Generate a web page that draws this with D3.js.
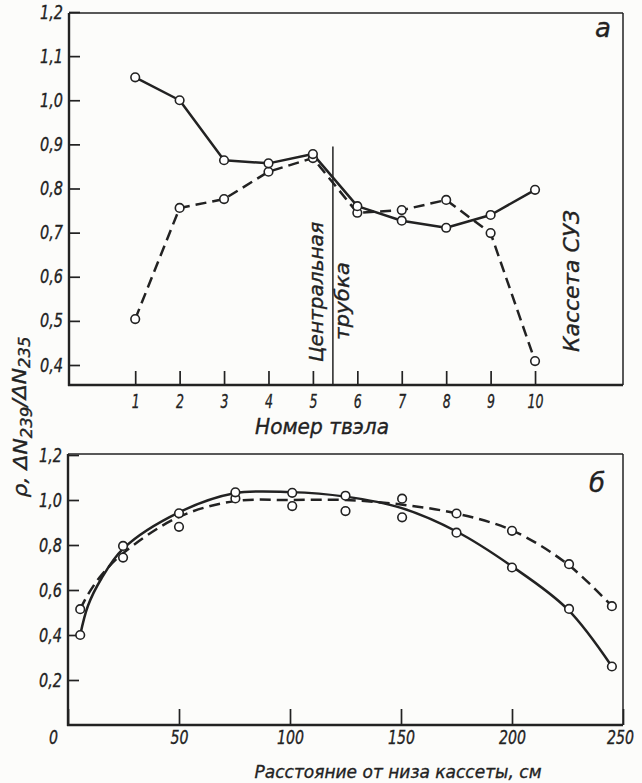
<!DOCTYPE html>
<html>
<head>
<meta charset="utf-8">
<script src="https://cdn.jsdelivr.net/npm/d3@7"></script>
<style>
  body { margin: 0; background: #fcfcfa; }
  svg text { font-family: 'DejaVu Sans', sans-serif; font-style: italic; fill: #222; stroke: #222; stroke-width: 0.35px; }
</style>
</head>
<body>
<svg id="chart" width="642" height="783"></svg>
<script>
// Panel a: ratio by fuel rod number
const rodNumbers = [1, 2, 3, 4, 5, 6, 7, 8, 9, 10];
const rodSolid = [1.052, 1.0, 0.864, 0.857, 0.878, 0.76, 0.727, 0.711, 0.74, 0.797];
const rodDashed = [0.504, 0.756, 0.776, 0.838, 0.869, 0.745, 0.751, 0.774, 0.699, 0.409];
const rodTicksY = [0.4, 0.5, 0.6, 0.7, 0.8, 0.9, 1.0, 1.1, 1.2];
const centralTubeAt = 5.45;

// Panel b: ratio by distance from the bottom of the assembly, cm
const distPoints = [5.5, 24.8, 50, 75.4, 101, 125, 150.5, 175, 200, 225.7, 245];
const distPointsSolid = [0.40, 0.796, 0.941, 1.034, 1.032, 1.019, 0.923, 0.855, 0.70, 0.516, 0.26];
const distPointsDashed = [0.515, 0.744, 0.881, 1.007, 0.973, 0.951, 1.006, 0.94, 0.863, 0.715, 0.528];
const curveDist = [5.5, 9, 15, 25, 50, 75, 100, 125, 150, 175, 200, 225, 245];
const curveSolid = [0.40, 0.53, 0.65, 0.785, 0.945, 1.03, 1.035, 1.015, 0.965, 0.86, 0.705, 0.515, 0.26];
const curveDashed = [0.515, 0.58, 0.665, 0.765, 0.925, 0.995, 1.0, 1.0, 0.98, 0.94, 0.865, 0.715, 0.528];
const distTicksX = [0, 50, 100, 150, 200, 250];
const distTicksY = [0.2, 0.4, 0.6, 0.8, 1.0, 1.2];

const INK = '#222';
const svg = d3.select('#chart');
const commaFmt = d => d3.format('.1f')(d).replace('.', ',');

const frameA = { left: 69, right: 623, top: 13, bottom: 385 };
const frameB = { left: 68, right: 623, top: 454, bottom: 725 };

const xA = d3.scaleLinear().domain([-0.49, 11.98]).range([frameA.left, frameA.right]);
const yA = d3.scaleLinear().domain([0.4, 1.2]).range([365, 12]);
const xB = d3.scaleLinear().domain([0, 250]).range([frameB.left, frameB.right]);
const yB = d3.scaleLinear().domain([0, 1.2]).range([frameB.bottom, 455]);

function drawFrame(f) {
    const g = svg.append('g').attr('stroke', INK).attr('fill', 'none');
    g.append('line').attr('x1', f.left).attr('x2', f.right).attr('y1', f.top).attr('y2', f.top).attr('stroke-width', 1.5);
    g.append('line').attr('x1', f.right).attr('x2', f.right).attr('y1', f.top).attr('y2', f.bottom).attr('stroke-width', 1.5);
    g.append('line').attr('x1', f.left).attr('x2', f.left).attr('y1', f.top).attr('y2', f.bottom + 1).attr('stroke-width', 2.4);
    g.append('line').attr('x1', f.left - 1).attr('x2', f.right).attr('y1', f.bottom).attr('y2', f.bottom).attr('stroke-width', 2.4);
}

function styleAxis(g, size, perChar) {
    g.select('.domain').remove();
    g.selectAll('.tick line').attr('stroke', INK).attr('stroke-width', 1.7);
    g.selectAll('.tick text')
        .attr('fill', INK)
        .style('font-size', size + 'px')
        .attr('lengthAdjust', 'spacingAndGlyphs')
        .attr('textLength', function () {
            const s = this.textContent;
            return s.replace(',', '').length * perChar + (s.includes(',') ? 5 : 0);
        });
}

function drawSeries(x, y, xs, ys, dashed, curve) {
    const line = d3.line()
        .x(d => x(d[0]))
        .y(d => y(d[1]))
        .curve(curve);
    svg.append('path')
        .datum(d3.zip(xs, ys))
        .attr('d', line)
        .attr('fill', 'none')
        .attr('stroke', INK)
        .attr('stroke-width', 2.5)
        .attr('stroke-linejoin', 'round')
        .attr('stroke-dasharray', dashed ? '11,6' : null);
}

function drawPoints(x, y, xs, ys) {
    svg.append('g')
        .selectAll('circle')
        .data(d3.zip(xs, ys))
        .join('circle')
        .attr('cx', d => x(d[0]))
        .attr('cy', d => y(d[1]))
        .attr('r', 4.3)
        .attr('fill', '#fff')
        .attr('stroke', INK)
        .attr('stroke-width', 1.6);
}

function verticalText(x, y, text, size, len) {
    return svg.append('text')
        .attr('transform', `translate(${x},${y}) rotate(-90)`)
        .attr('text-anchor', 'middle')
        .style('font-size', size + 'px')
        .attr('textLength', len)
        .attr('lengthAdjust', 'spacingAndGlyphs')
        .text(text);
}

// ---- Panel a ----
svg.append('g')
    .attr('transform', `translate(${frameA.left},0)`)
    .call(d3.axisLeft(yA).tickValues(rodTicksY).tickSize(-11).tickPadding(6).tickFormat(commaFmt))
    .call(g => styleAxis(g, 19, 9));

svg.append('g')
    .attr('transform', `translate(0,${frameA.bottom})`)
    .call(d3.axisBottom(xA).tickValues(rodNumbers).tickSize(-14).tickPadding(9).tickFormat(d3.format('d')))
    .call(g => styleAxis(g, 20, 8));

drawFrame(frameA);

// central tube marker
svg.append('line')
    .attr('x1', xA(centralTubeAt)).attr('x2', xA(centralTubeAt))
    .attr('y1', yA(0.9) + 2).attr('y2', frameA.bottom)
    .attr('stroke', INK).attr('stroke-width', 1.5);

drawSeries(xA, yA, rodNumbers, rodDashed, true, d3.curveLinear);
drawSeries(xA, yA, rodNumbers, rodSolid, false, d3.curveLinear);
drawPoints(xA, yA, rodNumbers, rodDashed);
drawPoints(xA, yA, rodNumbers, rodSolid);

verticalText(323, 292, 'Центральная', 20, 140);
verticalText(349, 301, 'трубка', 20, 78);
verticalText(579, 281, 'Кассета СУЗ', 21, 142);

svg.append('text').attr('x', 603).attr('y', 37).attr('text-anchor', 'middle')
    .style('font-size', '26px').text('а');

svg.append('text').attr('x', 322).attr('y', 434).attr('text-anchor', 'middle')
    .style('font-size', '21px').attr('textLength', 134).attr('lengthAdjust', 'spacingAndGlyphs')
    .text('Номер твэла');

// ---- Panel b ----
svg.append('g')
    .attr('transform', `translate(${frameB.left},0)`)
    .call(d3.axisLeft(yB).tickValues(distTicksY).tickSize(-11).tickPadding(6).tickFormat(commaFmt))
    .call(g => styleAxis(g, 19, 9));

svg.append('g')
    .attr('transform', `translate(0,${frameB.bottom})`)
    .call(d3.axisBottom(xB).tickValues(distTicksX).tickSize(-16).tickPadding(6).tickFormat(d3.format('d')))
    .call(g => styleAxis(g, 19, 9))
    .call(g => g.selectAll('.tick text').filter(d => d === 0).attr('dx', -15))
    .call(g => g.selectAll('.tick text').filter(d => d === 250).attr('dx', -3));

drawFrame(frameB);

drawSeries(xB, yB, curveDist, curveDashed, true, d3.curveCatmullRom.alpha(0.5));
drawSeries(xB, yB, curveDist, curveSolid, false, d3.curveCatmullRom.alpha(0.5));
drawPoints(xB, yB, distPoints, distPointsDashed);
drawPoints(xB, yB, distPoints, distPointsSolid);

svg.append('text').attr('x', 597).attr('y', 492).attr('text-anchor', 'middle')
    .style('font-size', '26px').text('б');

svg.append('text').attr('x', 398).attr('y', 778).attr('text-anchor', 'middle')
    .style('font-size', '18px').attr('textLength', 287).attr('lengthAdjust', 'spacingAndGlyphs')
    .text('Расстояние от низа кассеты, см');

// shared y label
const yLabel = svg.append('text')
    .attr('transform', 'translate(27,417) rotate(-90)')
    .attr('text-anchor', 'middle')
    .style('font-size', '20px')
    .attr('textLength', 161)
    .attr('lengthAdjust', 'spacingAndGlyphs');
yLabel.append('tspan').text('ρ, ΔN');
yLabel.append('tspan').attr('dy', '0.3em').style('font-size', '15px').text('239');
yLabel.append('tspan').attr('dy', '-0.3em').text('/ΔN');
yLabel.append('tspan').attr('dy', '0.3em').style('font-size', '15px').text('235');
</script>
</body>
</html>
